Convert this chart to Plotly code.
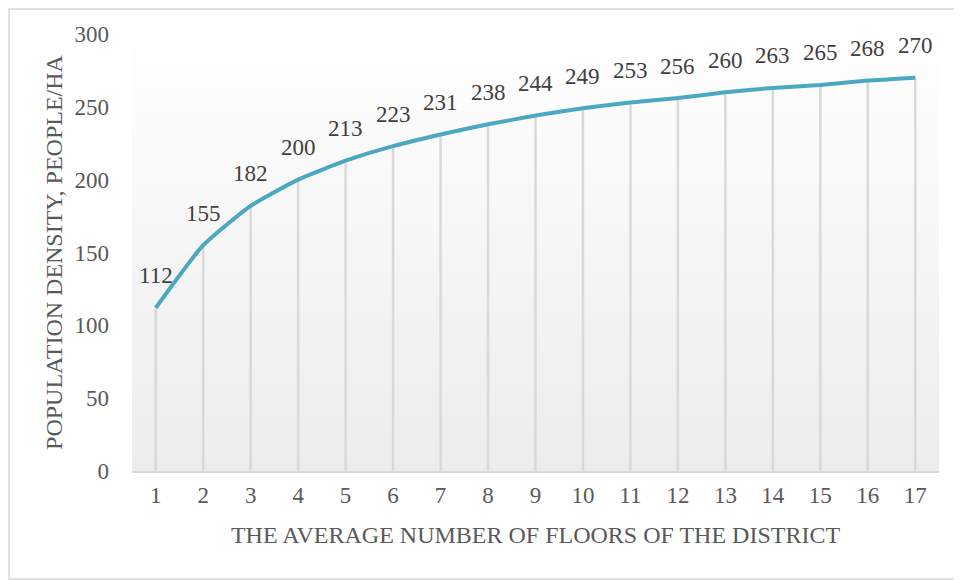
import plotly.graph_objects as go

floors = list(range(1, 18))
density = [112, 155, 182, 200, 213, 223, 231, 238, 244, 249, 253, 256, 260, 263, 265, 268, 270]
y_ticks = [0, 50, 100, 150, 200, 250, 300]

x_title = "THE AVERAGE NUMBER OF FLOORS OF THE DISTRICT"
y_title = "POPULATION DENSITY, PEOPLE/HA"

FONT = "Liberation Serif, Times New Roman, serif"
TICK_COLOR = "#595959"
LABEL_COLOR = "#404040"
LINE_COLOR = "#4BA8C2"
GRID_COLOR = "#d9d9d9"

W, H = 954, 572
L, R, T, B = 124, 23, 26, 109
PW, PH = W - L - R, H - T - B

fig = go.Figure()

# vertical drop lines from each point to the axis
fig.add_trace(go.Scatter(
    x=floors, y=density, mode="markers",
    marker=dict(size=1, opacity=0),
    error_y=dict(type="data", symmetric=False, array=[0] * len(density),
                 arrayminus=density, color=GRID_COLOR, thickness=2.5, width=0),
    hoverinfo="skip", showlegend=False,
))

# main line
fig.add_trace(go.Scatter(
    x=floors, y=density, mode="lines",
    line=dict(color=LINE_COLOR, width=4, shape="spline", smoothing=0.5),
    showlegend=False,
))

# data labels
for xv, yv in zip(floors, density):
    fig.add_annotation(x=xv, y=yv, text=str(yv), showarrow=False,
                       yshift=32, yanchor="middle",
                       font=dict(family=FONT, size=23, color=LABEL_COLOR))

# gradient background in the plot area
n = 40
top = (255, 255, 255)
bot = (236, 236, 236)
shapes = []
for i in range(n):
    t = (i + 0.5) / n
    c = tuple(round(top[k] + (bot[k] - top[k]) * t) for k in range(3))
    shapes.append(dict(type="rect", xref="x domain", yref="y domain",
                       x0=0, x1=1, y0=1 - (i + 1) / n, y1=1 - i / n + 0.001,
                       fillcolor="rgb(%d,%d,%d)" % c, line=dict(width=0),
                       layer="below"))
# outer chart border
shapes.append(dict(type="rect", xref="paper", yref="paper",
                   x0=(1 - L) / PW, x1=(W - 1 - L) / PW,
                   y0=-(H - T - PH - 1) / PH, y1=(PH + T - 1) / PH,
                   line=dict(color=GRID_COLOR, width=1.5), fillcolor="rgba(0,0,0,0)",
                   layer="below"))

fig.update_layout(
    width=W, height=H,
    margin=dict(l=L, r=R, t=T, b=B),
    paper_bgcolor="white", plot_bgcolor="white",
    font=dict(family=FONT, size=23, color=TICK_COLOR),
    shapes=shapes,
    xaxis=dict(
        range=[0.5, 17.5], tickmode="array", tickvals=floors,
        ticktext=[str(f) for f in floors],
        showgrid=False, zeroline=False,
        showline=True, linecolor=GRID_COLOR, linewidth=2,
        ticks="", ticklabelstandoff=2,
        tickfont=dict(family=FONT, size=23, color=TICK_COLOR),
        title=dict(text=x_title, standoff=20,
                   font=dict(family=FONT, size=24, color=TICK_COLOR)),
    ),
    yaxis=dict(
        range=[0, 300], tickmode="array", tickvals=y_ticks,
        showgrid=False, zeroline=False, showline=False,
        ticks="", ticklabelstandoff=22,
        tickfont=dict(family=FONT, size=23, color=TICK_COLOR),
        title=dict(text=y_title, standoff=5,
                   font=dict(family=FONT, size=24, color=TICK_COLOR)),
    ),
)

fig.write_html("out.html")
